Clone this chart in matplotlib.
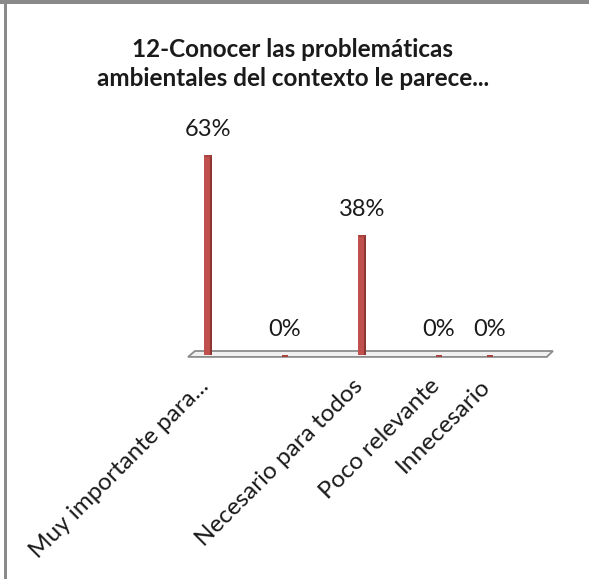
import matplotlib
matplotlib.use("Agg")
import matplotlib.pyplot as plt
from matplotlib.patches import Polygon, Rectangle
import matplotlib.transforms as mtransforms

# ---- data ----
categories = ["Muy importante para...", "", "Necesario para todos", "Poco relevante", "Innecesario"]
values = [62.5, 0.0, 37.5, 0.0, 0.0]
value_labels = ["63%", "0%", "38%", "0%", "0%"]
title = "12-Conocer las problemáticas\nambientales del contexto le parece..."

# layout (category slots as placed in the original)
positions = [0, 1, 2, 3, 3.66]

W, H = 589, 579
fig = plt.figure(figsize=(W / 100, H / 100), dpi=100)
plt.rcParams['font.family'] = ['Lato', 'DejaVu Sans']

# border (top and left grey lines)
fig.patches.append(Rectangle((0, 1 - 4 / H), 1, 4 / H, transform=fig.transFigure,
                             facecolor='#8a8a8a', edgecolor='none', zorder=0))
fig.patches.append(Rectangle((4 / W, 0), 3 / W, 1 - 4 / H, transform=fig.transFigure,
                             facecolor='#8a8a8a', edgecolor='none', zorder=0))

# axes placement: x unit = 77 px, y unit = 3.2 px, base at 355 px from top
unit_x = 77.0
unit_y = 3.2
x0 = 208 - 0.5 * unit_x
ax = fig.add_axes([x0 / W, (H - 355) / H, 5.1 * unit_x / W, 75 * unit_y / H])
ax.set_xlim(-0.5, 4.6)
ax.set_ylim(0, 75)
for s in ax.spines.values():
    s.set_visible(False)
ax.set_yticks([])
ax.patch.set_alpha(0)

# floor
floor = Polygon([(-0.169, 1.25), (4.48, 1.25), (4.40, -0.6), (-0.26, -0.6)],
                closed=True, facecolor='#f0f0f0', edgecolor='#8c8c8c', lw=1.3,
                zorder=1, clip_on=False)
ax.add_patch(floor)

# bars with simple 3D look
bw = 0.104
front = '#c0504d'
side = '#8e3532'
cap = '#a8423f'
ax.bar(positions, values, width=bw, color=front, zorder=3, clip_on=False)
ax.bar([p + bw / 2 - 0.014 for p in positions], values, width=0.028, color=side,
       zorder=4, clip_on=False)
ax.bar(positions, [0.7] * len(values), bottom=[v - 0.55 for v in values], width=0.075,
       color=cap, zorder=5, clip_on=False)

# value labels
for p, v, lab in zip(positions, values, value_labels):
    ax.annotate(lab, (p, v), xytext=(0, 19), textcoords='offset pixels',
                ha='center', va='baseline', fontsize=17, color='#1a1a1a')

# category labels
ax.set_xticks(positions)
ax.set_xticklabels(categories, rotation=45, ha='right', va='center',
                   rotation_mode='anchor', fontsize=17.5, color='#1a1a1a')
ax.tick_params(axis='x', length=0, pad=20)
off = mtransforms.ScaledTranslation(-3 / 100, 0, fig.dpi_scale_trans)
for lbl in ax.get_xticklabels():
    lbl.set_transform(lbl.get_transform() + off)

# title
fig.text(293 / W, 1 - 64 / H, title, ha='center', va='center', fontsize=17.5,
         fontweight='bold', linespacing=1.3, color='#1a1a1a')

fig.savefig('out.png', dpi=100)
